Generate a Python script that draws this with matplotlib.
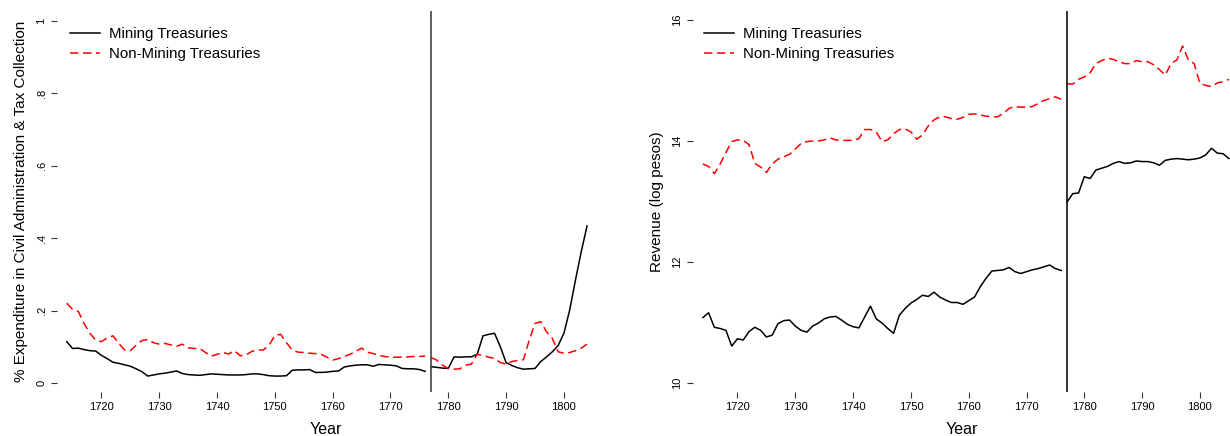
import numpy as np
import matplotlib
matplotlib.use('Agg')
import matplotlib.pyplot as plt

plt.rcParams['font.family'] = ['Liberation Sans', 'DejaVu Sans']

# ── 資料 ────────────────────────────────────────────────────────────
yrs_pre = np.arange(1714, 1777)
yrs_post_left = np.arange(1777, 1805)
yrs_post_right = np.arange(1777, 1806)
break_year = 1777

# 左圖：行政與稅收支出比例
mining_share_pre = [
    0.115, 0.096, 0.097, 0.093, 0.090, 0.089,
    0.077, 0.068, 0.058, 0.055, 0.051, 0.047, 0.040, 0.032, 0.020, 0.023,
    0.026, 0.028, 0.031, 0.034, 0.027, 0.024, 0.023, 0.022, 0.024, 0.026,
    0.025, 0.024, 0.023, 0.023, 0.023, 0.024, 0.026, 0.026, 0.024, 0.021,
    0.020, 0.020, 0.021, 0.036, 0.037, 0.037, 0.038, 0.030, 0.030, 0.031,
    0.033, 0.034, 0.045, 0.048, 0.050, 0.051, 0.051, 0.047, 0.052, 0.051,
    0.050, 0.048, 0.041, 0.040, 0.040, 0.038, 0.033,
]
nonmining_share_pre = [
    0.221, 0.204, 0.198, 0.165, 0.138, 0.119,
    0.115, 0.125, 0.131, 0.110, 0.092, 0.090, 0.105, 0.118, 0.121, 0.112,
    0.108, 0.110, 0.106, 0.102, 0.108, 0.098, 0.096, 0.096, 0.085, 0.075,
    0.080, 0.085, 0.081, 0.090, 0.076, 0.078, 0.088, 0.092, 0.092, 0.105,
    0.132, 0.135, 0.112, 0.092, 0.086, 0.085, 0.083, 0.082, 0.080, 0.072,
    0.064, 0.068, 0.074, 0.080, 0.088, 0.097, 0.086, 0.082, 0.077, 0.074,
    0.072, 0.072, 0.072, 0.073, 0.074, 0.074, 0.075,
]
mining_share_post = [
    0.046, 0.044, 0.042, 0.041, 0.073, 0.072, 0.073, 0.073, 0.080, 0.131,
    0.135, 0.138, 0.101, 0.057, 0.049, 0.043, 0.039, 0.040, 0.041, 0.060,
    0.073, 0.087, 0.104, 0.138, 0.202, 0.285, 0.363, 0.434,
]
nonmining_share_post = [
    0.071, 0.064, 0.050, 0.041, 0.039, 0.040, 0.050, 0.053, 0.080, 0.077,
    0.072, 0.069, 0.057, 0.053, 0.060, 0.063, 0.065, 0.119, 0.165, 0.170,
    0.142, 0.124, 0.087, 0.083, 0.085, 0.090, 0.097, 0.108,
]

# 右圖：收入（log pesos）
mining_rev_pre = [
    11.08, 11.16, 10.92, 10.90, 10.87, 10.61,
    10.73, 10.71, 10.85, 10.92, 10.87, 10.76, 10.79, 10.98, 11.03, 11.04,
    10.94, 10.87, 10.84, 10.94, 10.99, 11.06, 11.09, 11.10, 11.04, 10.97,
    10.93, 10.91, 11.09, 11.27, 11.06, 10.99, 10.90, 10.82, 11.12, 11.23,
    11.32, 11.38, 11.45, 11.43, 11.50, 11.42, 11.37, 11.33, 11.33, 11.30,
    11.36, 11.42, 11.59, 11.73, 11.85, 11.86, 11.87, 11.91, 11.84, 11.81,
    11.84, 11.87, 11.89, 11.92, 11.95, 11.89, 11.86,
]
nonmining_rev_pre = [
    13.62, 13.58, 13.46, 13.62, 13.81, 13.99,
    14.02, 14.01, 13.94, 13.63, 13.57, 13.48, 13.62, 13.70, 13.74, 13.78,
    13.87, 13.96, 13.99, 14.00, 14.00, 14.02, 14.05, 14.02, 14.01, 14.01,
    14.01, 14.04, 14.19, 14.19, 14.15, 13.99, 14.02, 14.12, 14.19, 14.20,
    14.15, 14.03, 14.10, 14.25, 14.35, 14.40, 14.40, 14.37, 14.36, 14.39,
    14.44, 14.45, 14.43, 14.41, 14.40, 14.40, 14.46, 14.54, 14.57, 14.56,
    14.56, 14.57, 14.62, 14.67, 14.70, 14.73, 14.69,
]
mining_rev_post = [
    12.99, 13.13, 13.14, 13.41, 13.38, 13.52, 13.55, 13.58, 13.63, 13.66,
    13.63, 13.64, 13.67, 13.66, 13.66, 13.64, 13.60, 13.68, 13.70, 13.71,
    13.70, 13.69, 13.70, 13.72, 13.77, 13.88, 13.80, 13.79, 13.71,
]
nonmining_rev_post = [
    14.95, 14.94, 15.02, 15.06, 15.13, 15.28, 15.33, 15.37, 15.35, 15.31,
    15.28, 15.28, 15.33, 15.31, 15.31, 15.26, 15.18, 15.09, 15.28, 15.34,
    15.57, 15.34, 15.28, 14.95, 14.92, 14.90, 14.96, 14.98, 15.02,
]

x_ticks = [1720, 1730, 1740, 1750, 1760, 1770, 1780, 1790, 1800]
left_yticks = [0, 0.2, 0.4, 0.6, 0.8, 1.0]
left_yticklabels = ['0', '.2', '.4', '.6', '.8', '1']
right_yticks = [10, 12, 14, 16]
right_yticklabels = ['10', '12', '14', '16']

# ── 繪圖 ────────────────────────────────────────────────────────────
fig = plt.figure(figsize=(12.3, 4.36), dpi=100)
ax1 = fig.add_axes([0.0463, 0.1009, 0.4366, 0.8739])
ax2 = fig.add_axes([0.5634, 0.1009, 0.4366, 0.8739])

dash = (0, (5.5, 3))


def draw_panel(ax, m_pre, n_pre, yrs_post, m_post, n_post,
               ylim, yticks, yticklabels, ylabel, legend_x, vline_color):
    ax.plot(yrs_pre, m_pre, color='black', lw=1.1, label='Mining Treasuries')
    ax.plot(yrs_pre, n_pre, color='#ff0000', lw=1.1, linestyle=dash,
            label='Non-Mining Treasuries')
    ax.plot(yrs_post, m_post, color='black', lw=1.1)
    ax.plot(yrs_post, n_post, color='#ff0000', lw=1.1, linestyle=dash)
    ax.axvline(break_year, color=vline_color, lw=1.2)

    ax.set_xlim(1712.3, 1805.2)
    ax.set_ylim(*ylim)
    ax.set_xticks(x_ticks)
    ax.set_yticks(yticks)
    ax.set_yticklabels(yticklabels, rotation=90, va='center')
    for s in ax.spines.values():
        s.set_visible(False)
    ax.tick_params(axis='both', labelsize=8, length=4.5, width=0.8,
                   color='#333333', pad=3)
    ax.set_xlabel('Year', fontsize=11.5, labelpad=7)
    ax.set_ylabel(ylabel, fontsize=11, labelpad=6)
    ax.legend(loc='upper left', bbox_to_anchor=(legend_x, 0.958),
              frameon=False, fontsize=10.8, handlelength=2.0,
              handletextpad=0.6, labelspacing=0.42, borderpad=0,
              borderaxespad=0)


draw_panel(ax1, mining_share_pre, nonmining_share_pre, yrs_post_left,
           mining_share_post, nonmining_share_post, (-0.024, 1.027),
           left_yticks, left_yticklabels,
           '% Expenditure in Civil Administration & Tax Collection', 0.024,
           '#444444')
draw_panel(ax2, mining_rev_pre, nonmining_rev_pre, yrs_post_right,
           mining_rev_post, nonmining_rev_post, (9.85, 16.15),
           right_yticks, right_yticklabels, 'Revenue (log pesos)', 0.0205,
           '#111111')

fig.savefig('out.png', dpi=100)
